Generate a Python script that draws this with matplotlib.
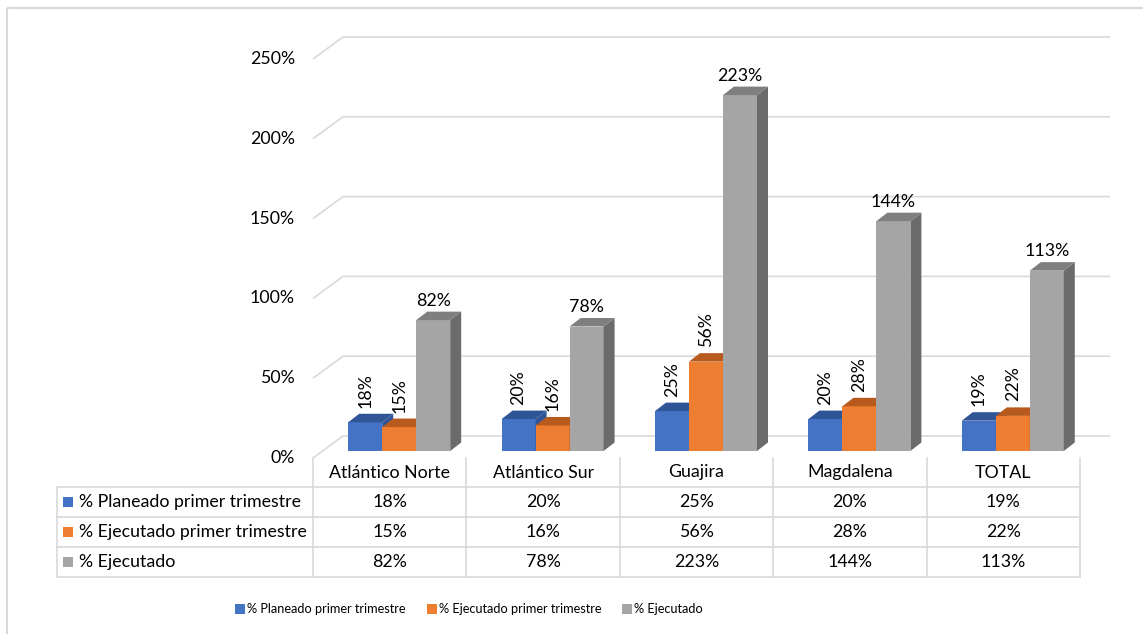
import matplotlib
matplotlib.use('Agg')
import matplotlib.pyplot as plt
from matplotlib.patches import Rectangle

# datos del grafico
categorias = ['Atlántico Norte', 'Atlántico Sur', 'Guajira', 'Magdalena', 'TOTAL']
series = ['% Planeado primer trimestre', '% Ejecutado primer trimestre', '% Ejecutado']
planeado = [18, 20, 25, 20, 19]
ejecutado_trim = [15, 16, 56, 28, 22]
ejecutado = [82, 78, 223, 144, 113]
valores = [planeado, ejecutado_trim, ejecutado]
yticks = [0, 50, 100, 150, 200, 250]

caras = ['#4472C4', '#ED7D31', '#A5A5A5']
techos = ['#2F5597', '#B85A1E', '#7F7F7F']
lados = ['#2F5597', '#A9531B', '#6B6B6B']
gris = '#D9D9D9'

plt.rcParams['font.family'] = ['Lato', 'DejaVu Sans']
FS = 12.8

W, H = 1143, 634
fig = plt.figure(figsize=(W/100, H/100), dpi=100, facecolor='white')

# front plane of the 3D box, in pixels
x0, x1 = 313, 1080
y0, y1 = 458, 59
ax = fig.add_axes([x0/W, 1-y0/H, (x1-x0)/W, (y0-y1)/H])
ax.set_xlim(-0.5, 4.5)
ax.set_ylim(0, 250)
ax.set_axis_off()

pxx = (x1-x0)/5.0
pxy = (y0-y1)/250.0
def dx(p): return p/pxx
def dy(p): return p/pxy

# back wall gridlines + left diagonals
wx, wy = dx(30), dy(22)
xend = (1110-x0)/pxx - 0.5
for t in yticks:
    ax.plot([-0.5, -0.5+wx, xend], [t, t+wy, t+wy], color=gris, lw=1.2,
            clip_on=False, zorder=1, solid_capstyle='butt')
    ax.text(-0.5-dx(18), t, '%d%%' % t, ha='right', va='center', fontsize=FS)

# 3D-looking columns
bw = dx(34)
ox, oy = dx(9.5), dy(7)
ddx, ddy = dx(11), dy(8.5)
for i in range(len(categorias)):
    for k in range(3):
        v = valores[k][i]
        xl = i - 1.5*bw + k*bw + ox
        xr = xl + bw
        yb, yt = oy, oy + v
        z = 3 + k
        ax.bar(xl, v, width=bw, bottom=oy, align='edge', color=caras[k],
               lw=0, zorder=z, clip_on=False)
        ax.fill([xr, xr+ddx, xr+ddx, xr], [yb, yb+ddy, yt+ddy, yt],
                color=lados[k], lw=0, zorder=z, clip_on=False)
        ax.fill([xl, xl+ddx, xr+ddx, xr], [yt, yt+ddy, yt+ddy, yt],
                color=techos[k], lw=0, zorder=z, clip_on=False)
        if k < 2:
            ax.text(xl+bw/2, yt+ddy+dy(6), '%d%%' % v, rotation=90,
                    ha='center', va='bottom', fontsize=FS, zorder=10)
        else:
            ax.text(xl+bw/2, yt+ddy+dy(3), '%d%%' % v,
                    ha='center', va='bottom', fontsize=FS, zorder=10)

# data table under the chart (pixel coords)
tb = fig.add_axes([0, 0, 1, 1])
tb.set_xlim(0, W)
tb.set_ylim(H, 0)
tb.set_axis_off()

cols = [x0 + i*pxx for i in range(len(categorias)+1)]
rows = [487, 517, 547, 577]
tx0 = 57
for r in rows:
    tb.plot([tx0, x1], [r, r], color=gris, lw=1.2)
tb.plot([tx0, tx0], [rows[0], rows[-1]], color=gris, lw=1.2)
for c in cols:
    tb.plot([c, c], [y0, rows[-1]], color=gris, lw=1.2)

for i, cat in enumerate(categorias):
    tb.text((cols[i]+cols[i+1])/2, (y0+rows[0])/2, cat, ha='center',
            va='center', fontsize=FS)
for k in range(3):
    yc = (rows[k]+rows[k+1])/2
    tb.add_patch(Rectangle((63, yc-5), 10, 10, color=caras[k], lw=0))
    tb.text(79, yc, series[k], ha='left', va='center', fontsize=FS)
    for i in range(len(categorias)):
        tb.text((cols[i]+cols[i+1])/2, yc, '%d%%' % valores[k][i],
                ha='center', va='center', fontsize=FS)

# outer chart border
tb.add_patch(Rectangle((7, 8), W, H, fill=False, ec=gris, lw=1.5, clip_on=False))

# legend at the bottom, laid out by hand like Excel does
ly = 609
for xs, nombre, c in zip([235, 427, 622], series, caras):
    tb.add_patch(Rectangle((xs, ly-5), 10, 10, color=c, lw=0))
    tb.text(xs+12, ly, nombre, ha='left', va='center', fontsize=9.2)

fig.savefig('out.png', dpi=100, facecolor='white')
